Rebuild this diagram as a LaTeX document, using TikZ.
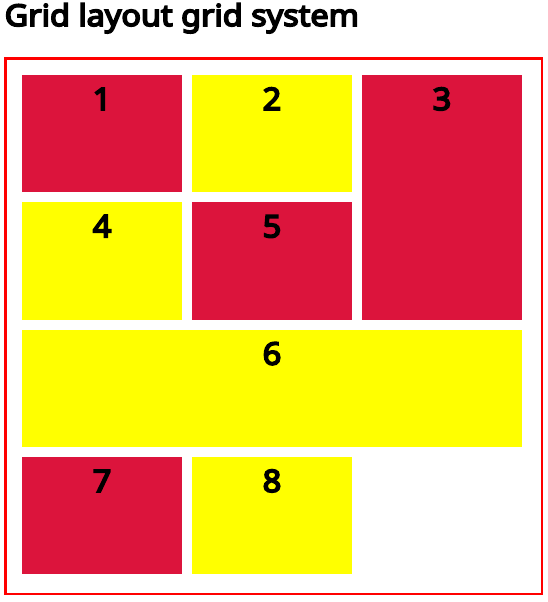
\documentclass[tikz,border=0pt]{standalone}
\usepackage{fontspec}
\setmainfont{Noto Sans}[AutoFakeBold=5]
\newfontfamily\titlefont{Noto Sans}[FakeBold=5.5,FakeStretch=1.08]
\newfontfamily\digitfont{Noto Sans}[FakeBold=5.5,FakeStretch=1.05]
\definecolor{crimson}{HTML}{DC143C}
\definecolor{yel}{HTML}{FFFF00}
\definecolor{bord}{HTML}{FF0000}
\begin{document}
\begin{tikzpicture}[x=1pt,y=-1pt,
  cellbox/.style={inner sep=0pt,outer sep=0pt,minimum width=160pt,minimum height=117.3pt,anchor=north west},
  lab/.style={font=\digitfont\fontsize{31}{31}\selectfont,anchor=base,inner sep=0pt}]
\useasboundingbox (0,0) rectangle (548,602);
\node[anchor=base west,inner sep=0pt,font=\titlefont\fontsize{30}{30}\selectfont] (title) at (4.5,26) {Grid layout grid system};
\node[draw=bord,line width=2.4pt,inner sep=0pt,minimum width=536.5pt,minimum height=535.5pt,anchor=north west] (frame) at (4.2,57.2) {};
\node[cellbox,fill=crimson] (c1) at (22,75) {};
\node[cellbox,fill=yel] (c2) at (192,75) {};
\node[cellbox,fill=crimson,minimum height=244.7pt] (c3) at (362,75) {};
\node[cellbox,fill=yel] (c4) at (22,202.3) {};
\node[cellbox,fill=crimson] (c5) at (192,202.3) {};
\node[cellbox,fill=yel,minimum width=500pt] (c6) at (22,329.7) {};
\node[cellbox,fill=crimson] (c7) at (22,457) {};
\node[cellbox,fill=yel] (c8) at (192,457) {};
\node[lab] (l1) at ([yshift=-35pt]c1.north) {1};
\node[lab] (l2) at ([yshift=-35pt]c2.north) {2};
\node[lab] (l3) at ([yshift=-35pt]c3.north) {3};
\node[lab] (l4) at ([yshift=-35pt]c4.north) {4};
\node[lab] (l5) at ([yshift=-35pt]c5.north) {5};
\node[lab] (l6) at ([yshift=-35pt]c6.north) {6};
\node[lab] (l7) at ([yshift=-35pt]c7.north) {7};
\node[lab] (l8) at ([yshift=-35pt]c8.north) {8};
\end{tikzpicture}
\end{document}
